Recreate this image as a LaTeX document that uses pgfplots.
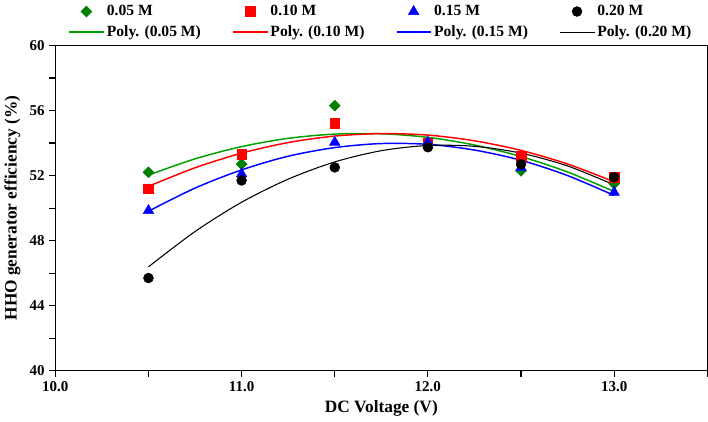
\documentclass[border=0pt]{standalone}
\usepackage{fontspec}
\setmainfont{Liberation Serif}
\usepackage{pgfplots}
\pgfplotsset{compat=1.18}
\definecolor{gM}{HTML}{008000}
\definecolor{gL}{HTML}{00A000}
\definecolor{rM}{HTML}{FF0000}
\definecolor{bM}{HTML}{0000FF}
\begin{document}
\begin{tikzpicture}
\begin{axis}[
  width=489pt, height=244pt, scale only axis,
  xmin=10, xmax=13.5, ymin=40, ymax=60,
  xtick={10,11,12,13}, minor xtick={10.5,11.5,12.5,13.5},
  ytick={40,44,...,60}, minor ytick={42,46,...,58},
  tick pos=left, tick align=outside,
  major tick length=4.5pt, minor tick length=4.5pt,
  every tick/.style={black, line width=0.9pt},
  axis line style={line width=1.1pt},
  /pgf/number format/assume math mode=true,
  xticklabel style={/pgf/number format/.cd, fixed, fixed zerofill, precision=1},
  tick label style={font=\fontsize{11.25}{13}\selectfont\bfseries},
  label style={font=\fontsize{13}{15}\selectfont\bfseries},
  xlabel={DC Voltage (V)},
  ylabel={HHO generator efficiency (\%)},
  legend style={at={(0.5,1)}, anchor=south, yshift=1pt, draw=none, fill=none,
    font=\fontsize{11.7}{13}\selectfont\bfseries, row sep=2pt,
    cells={anchor=west},
    /tikz/every even column/.append style={column sep=21.5pt}},
  legend columns=4,
  legend image code/.code={\draw[mark repeat=2, mark phase=2, #1] plot coordinates {(0cm,0cm) (0.45cm,0cm) (0.9cm,0cm)};},
]
% measured points
\addplot[only marks, mark=square*, mark size=2.9pt, mark options={rotate=45}, color=gM]
  coordinates {(10.5,52.2) (11.0,52.7) (11.5,56.3) (12.0,53.9) (12.5,52.3) (13.0,51.5)};
\addplot[only marks, mark=square*, mark size=3.6pt, color=rM]
  coordinates {(10.5,51.2) (11.0,53.3) (11.5,55.2) (12.0,54.0) (12.5,53.2) (13.0,51.9)};
\addplot[only marks, mark=triangle*, mark size=4.5pt, color=bM]
  coordinates {(10.5,49.85) (11.0,52.1) (11.5,54.05) (12.0,54.05) (12.5,52.5) (13.0,50.97)};
\addplot[only marks, mark=*, mark size=3.7pt, color=black]
  coordinates {(10.5,45.7) (11.0,51.7) (11.5,52.5) (12.0,53.74) (12.5,52.7) (13.0,51.9)};
% quadratic trend lines
\addplot[gL, line width=1.1pt, smooth, no marks] coordinates {
  (10.5,52.03) (10.75,53.03) (11.0,53.78) (11.25,54.29) (11.5,54.55) (11.75,54.57)
  (12.0,54.35) (12.25,53.88) (12.5,53.17) (12.75,52.22) (13.0,51.02)};
\addplot[rM, line width=1.1pt, smooth, no marks] coordinates {
  (10.5,51.34) (10.75,52.48) (11.0,53.38) (11.25,54.03) (11.5,54.43) (11.75,54.58)
  (12.0,54.49) (12.25,54.14) (12.5,53.55) (12.75,52.71) (13.0,51.62)};
\addplot[bM, line width=1.1pt, smooth, no marks] coordinates {
  (10.5,49.81) (10.75,51.23) (11.0,52.35) (11.25,53.19) (11.5,53.72) (11.75,53.97)
  (12.0,53.92) (12.25,53.57) (12.5,52.94) (12.75,52.00) (13.0,50.78)};
\addplot[black, line width=0.8pt, smooth, no marks] coordinates {
  (10.5,46.39) (10.75,48.56) (11.0,50.36) (11.25,51.78) (11.5,52.84) (11.75,53.53)
  (12.0,53.85) (12.25,53.80) (12.5,53.38) (12.75,52.59) (13.0,51.43)};
\legend{0.05 M, 0.10 M, 0.15 M, 0.20 M, Poly. (0.05 M), Poly. (0.10 M), Poly. (0.15 M), Poly. (0.20 M)}
\end{axis}
\end{tikzpicture}
\end{document}
